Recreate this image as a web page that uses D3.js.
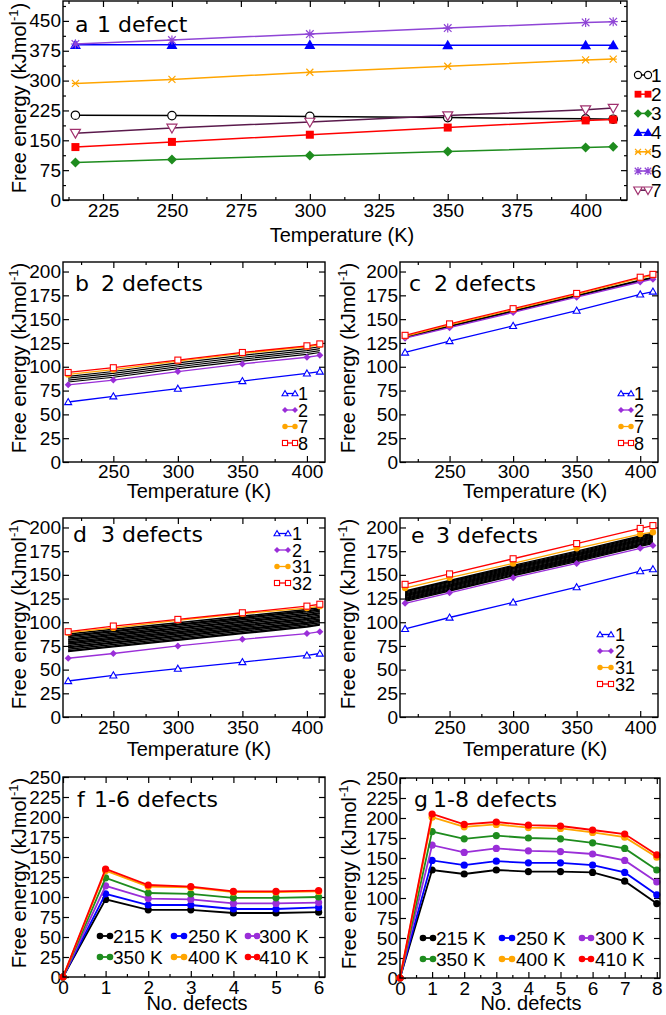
<!DOCTYPE html>
<html><head><meta charset="utf-8">
<script src="https://cdn.jsdelivr.net/npm/d3@7"></script>
<style>body{margin:0;background:#fff}</style>
</head><body>
<svg id="c" width="666" height="1015" xmlns="http://www.w3.org/2000/svg"></svg>
<script>
// ---------- DATA ----------
const temps = [215, 250, 300, 350, 400, 410];
const defectsF = [0, 1, 2, 3, 4, 5, 6];
const defectsG = [0, 1, 2, 3, 4, 5, 6, 7, 8];

// panel a (1 defect)
const aNames = ["1", "2", "3", "4", "5", "6", "7"];
const a1 = [213, 212, 210, 207, 204, 203];
const a2 = [133, 146, 164, 182, 200, 202];
const a3 = [94, 102, 112, 122, 132, 134];
const a4 = [390, 390, 390, 389, 389, 389];
const a5 = [293, 303, 321, 336, 352, 354];
const a6 = [392, 402, 417, 432, 446, 448];
const a7 = [168, 181, 196, 212, 227, 231];

// panel b (2 defects)
const b1 = [63, 69, 77, 85, 93, 95];
const b2 = [81, 86, 95, 103, 110, 112];
const bOthers = [
  [84, 89, 98, 106, 113, 115],
  [86, 91, 100, 108, 115, 117],
  [88, 93, 102, 110, 117, 119],
  [90, 95, 104, 112, 119, 121]
];
const b7 = [92, 97, 106, 114, 121, 123];
const b8 = [94, 99, 107, 115, 122, 124];

// panel c (2 defects)
const c1 = [115, 127, 143, 159, 176, 179];
const c2 = [130, 141, 157, 173, 189, 192];
const cOthers = [
  [130.5, 142, 158, 174, 190, 193],
  [131, 142.5, 158.5, 174.5, 190.5, 193.5],
  [131.5, 143, 159, 175, 191, 194]
];
const c7 = [132, 144, 160, 176, 193, 196];
const c8 = [133, 145, 161, 177, 194, 197];

// panel d (3 defects)
const d1 = [38, 44, 51, 58, 65, 67];
const d2 = [62, 67, 75, 82, 88, 90];
const dOthers = [
  [69, 74, 81, 88, 95, 97],
  [70, 75, 82, 89, 96, 98],
  [71.5, 76.5, 83.5, 90.5, 97.5, 99.5],
  [73, 78, 85, 92, 99, 101],
  [74, 79, 86, 93, 100, 102],
  [75.5, 80.5, 87.5, 94.5, 101.5, 103.5],
  [77, 82, 89, 96, 103, 105],
  [78, 83, 90, 97, 104, 106],
  [79.5, 84.5, 91.5, 98.5, 105.5, 107.5],
  [81, 86, 93, 100, 107, 109],
  [82, 87, 94, 101, 108, 110],
  [83.5, 88.5, 95.5, 102.5, 109.5, 111.5],
  [85, 90, 97, 104, 111, 113],
  [86, 91, 98, 105, 112, 114],
  [87.5, 92.5, 99.5, 106.5, 113.5, 115.5]
];
const d31 = [89, 94, 102, 109, 115, 117];
const d32 = [90, 96, 103, 110, 117, 119];

// panel e (3 defects)
const e1 = [93, 105, 121, 137, 154, 156];
const e2 = [120, 131, 147, 162, 178, 181];
const eOthers = [
  [122, 133, 149, 164, 180, 183],
  [123, 134, 150, 165, 181, 184],
  [124, 135, 151, 166, 182, 185],
  [125, 136, 152, 167, 183, 186],
  [126, 137, 153, 168, 184, 187],
  [127, 138, 154, 169, 185, 188],
  [128, 139, 155, 170, 186, 189],
  [129, 140, 156, 171, 187, 190],
  [130, 141, 157, 172, 188, 191],
  [131, 142, 158, 173, 189, 192],
  [132, 143, 159, 174, 190, 193],
  [133, 144, 160, 175, 191, 194]
];
const e31 = [136, 147, 162, 178, 193, 195];
const e32 = [140, 151, 167, 183, 199, 202];

// panel f (1-6 defects)
const tempLabels = ["215 K", "250 K", "300 K", "350 K", "400 K", "410 K"];
const f215 = [0, 97, 84, 84, 80, 80, 81];
const f250 = [0, 104, 90, 90, 85, 85, 87];
const f300 = [0, 114, 98, 97, 92, 92, 93];
const f350 = [0, 124, 105, 104, 99, 99, 100];
const f400 = [0, 133, 113, 112, 106, 106, 107];
const f410 = [0, 135, 115, 113, 107, 107, 108];

// panel g (1-8 defects)
const g215 = [0, 135, 130, 135, 133, 133, 132, 121, 93];
const g250 = [0, 147, 141, 146, 144, 144, 141, 132, 104];
const g300 = [0, 166, 157, 162, 159, 158, 155, 147, 120];
const g350 = [0, 183, 174, 178, 175, 174, 169, 162, 135];
const g400 = [0, 201, 189, 192, 188, 187, 182, 176, 151];
const g410 = [0, 205, 192, 195, 191, 190, 185, 180, 154];

// tick values
const aXTicks = [225, 250, 275, 300, 325, 350, 375, 400];
const aYTicks = [0, 75, 150, 225, 300, 375, 450];
const tXTicks = [250, 300, 350, 400];
const tYTicks = [0, 25, 50, 75, 100, 125, 150, 175, 200];
const nYTicks = [0, 25, 50, 75, 100, 125, 150, 175, 200, 225, 250];

// ---------- STYLE ----------
const RED = "#ff0000", BLUE = "#0000ff", GREEN = "#1e8c1e", ORANGE = "#ffa500",
      PURPLE = "#9a2ed8", VIOLET = "#8f45d6", PLUM = "#5a1a4c", PLUMM = "#a0306e";
const TICKFONT = "'Liberation Sans', Arial, Helvetica, sans-serif";
const TITLEFONT = "'DejaVu Sans', Verdana, sans-serif";

const svg = d3.select("#c");

function mark(g, type, cx, cy, color, s) {
  switch (type) {
    case "circleOpen":
      g.append("circle").attr("cx", cx).attr("cy", cy).attr("r", s)
        .attr("fill", "#fff").attr("stroke", color).attr("stroke-width", 1.2); break;
    case "circle":
      g.append("circle").attr("cx", cx).attr("cy", cy).attr("r", s).attr("fill", color); break;
    case "square":
      g.append("rect").attr("x", cx - s).attr("y", cy - s).attr("width", 2 * s).attr("height", 2 * s).attr("fill", color); break;
    case "squareOpen":
      g.append("rect").attr("x", cx - s).attr("y", cy - s).attr("width", 2 * s).attr("height", 2 * s)
        .attr("fill", "#fff").attr("stroke", color).attr("stroke-width", 1.1); break;
    case "diamond":
      g.append("path").attr("d", `M${cx},${cy - s}L${cx + s},${cy}L${cx},${cy + s}L${cx - s},${cy}Z`).attr("fill", color); break;
    case "triUp":
      g.append("path").attr("d", `M${cx},${cy - s}L${cx + s},${cy + s * 0.75}L${cx - s},${cy + s * 0.75}Z`).attr("fill", color); break;
    case "triUpOpen":
      g.append("path").attr("d", `M${cx},${cy - s}L${cx + s},${cy + s * 0.75}L${cx - s},${cy + s * 0.75}Z`)
        .attr("fill", "#fff").attr("stroke", color).attr("stroke-width", 1.1); break;
    case "triDownOpen":
      g.append("path").attr("d", `M${cx},${cy + s}L${cx + s},${cy - s * 0.75}L${cx - s},${cy - s * 0.75}Z`)
        .attr("fill", "#fff").attr("stroke", color).attr("stroke-width", 1.2); break;
    case "cross":
      g.append("path").attr("d", `M${cx - s},${cy - s}L${cx + s},${cy + s}M${cx - s},${cy + s}L${cx + s},${cy - s}M${cx - s},${cy}L${cx + s},${cy}`)
        .attr("stroke", color).attr("stroke-width", 1.2).attr("fill", "none"); break;
    case "star":
      g.append("path").attr("d", `M${cx - s},${cy - s}L${cx + s},${cy + s}M${cx - s},${cy + s}L${cx + s},${cy - s}M${cx - s * 1.2},${cy}L${cx + s * 1.2},${cy}M${cx},${cy - s * 1.2}L${cx},${cy + s * 1.2}`)
        .attr("stroke", color).attr("stroke-width", 1.2).attr("fill", "none"); break;
  }
}

function panel(o) {
  const g = svg.append("g");
  const x = d3.scaleLinear().domain(o.xd).range([o.l, o.r]);
  const y = d3.scaleLinear().domain(o.yd).range([o.b, o.t]);

  function ax(fn, scale, vals, size, labels, tr, pad) {
    const a = g.append("g").attr("transform", tr)
      .call(fn(scale).tickValues(vals).tickSize(size).tickPadding(pad)
        .tickFormat(labels ? d3.format("d") : () => ""));
    a.select(".domain").remove();
    a.selectAll("line").attr("stroke", "#000").attr("stroke-width", 1.2);
    a.attr("font-size", 19).attr("font-family", TICKFONT);
    a.selectAll("text").attr("fill", "#000");
    if (!labels) a.selectAll("text").remove();
    return a;
  }
  ax(d3.axisBottom, x, o.xt, -6, true, `translate(0,${o.b})`, o.xpad);
  ax(d3.axisTop, x, o.xt, -6, false, `translate(0,${o.t})`, 0);
  ax(d3.axisLeft, y, o.yt, -6, true, `translate(${o.l},0)`, 2);
  ax(d3.axisRight, y, o.yt, -6, false, `translate(${o.r},0)`, 0);
  if (o.xm) {
    ax(d3.axisBottom, x, o.xm, -3, false, `translate(0,${o.b})`, 0);
    ax(d3.axisTop, x, o.xm, -3, false, `translate(0,${o.t})`, 0);
  }
  if (o.ym) {
    ax(d3.axisLeft, y, o.ym, -3, false, `translate(${o.l},0)`, 0);
    ax(d3.axisRight, y, o.ym, -3, false, `translate(${o.r},0)`, 0);
  }

  const line = d3.line().x((d, i) => x(o.xs[i])).y(d => y(d));
  (o.others || []).forEach(s => {
    g.append("path").attr("d", line(s)).attr("fill", "none").attr("stroke", "#000").attr("stroke-width", o.otherW || 1.2);
  });
  o.series.forEach(s => {
    g.append("path").attr("d", line(s.v)).attr("fill", "none").attr("stroke", s.lc || s.c).attr("stroke-width", o.lw);
    s.v.forEach((v, i) => mark(g, s.m, x(o.xs[i]), y(v), s.mc || s.c, s.s));
  });

  g.append("rect").attr("x", o.l).attr("y", o.t).attr("width", o.r - o.l).attr("height", o.b - o.t)
    .attr("fill", "none").attr("stroke", "#000").attr("stroke-width", 1.4);

  if (o.leg) {
    o.leg.forEach(L => {
      const s = L.s;
      g.append("line").attr("x1", L.x0).attr("x2", L.x1).attr("y1", L.y).attr("y2", L.y)
        .attr("stroke", s.lc || s.c).attr("stroke-width", o.lw);
      mark(g, s.m, L.x0, L.y, s.mc || s.c, L.ms || s.s);
      mark(g, s.m, L.x1, L.y, s.mc || s.c, L.ms || s.s);
      g.append("text").attr("x", L.tx).attr("y", L.y + 6.5).attr("font-size", L.fs || 19)
        .attr("font-family", TICKFONT).text(L.label);
    });
  }

  g.append("text").attr("x", o.title[0]).attr("y", o.title[3]).attr("font-size", 22)
    .attr("font-family", TITLEFONT).text(o.title[2]);
  g.append("text").attr("x", o.title[1]).attr("y", o.title[3]).attr("font-size", 22)
    .attr("font-family", TITLEFONT).text(o.titleRest);

  g.append("text").attr("x", o.xl[0]).attr("y", o.xl[1]).attr("text-anchor", "middle")
    .attr("font-size", 20).attr("font-family", TICKFONT).text(o.xlab);
  const yl = g.append("text").attr("transform", "rotate(-90)")
    .attr("x", -o.yl[1]).attr("y", o.yl[0]).attr("text-anchor", "middle")
    .attr("font-size", 20).attr("font-family", TICKFONT);
  yl.append("tspan").text("Free energy (kJmol");
  yl.append("tspan").attr("font-size", 13).attr("dy", -8).text("-1");
  yl.append("tspan").attr("dy", 8).text(")");
}

// ---------- PANELS ----------
const aS = [
  {v: a1, c: "#000", m: "circleOpen", s: 4.2},
  {v: a2, c: RED, m: "square", s: 4},
  {v: a3, c: GREEN, m: "diamond", s: 5},
  {v: a4, c: BLUE, m: "triUp", s: 5.5},
  {v: a5, c: ORANGE, m: "cross", s: 3.5},
  {v: a6, c: VIOLET, m: "star", s: 3.8},
  {v: a7, c: PLUM, mc: PLUMM, m: "triDownOpen", s: 5}
];
panel({
  l: 63, r: 627, t: 1, b: 200, xd: [210.5, 415], yd: [0, 500],
  xt: aXTicks, yt: aYTicks,
  xm: [212.5, 237.5, 262.5, 287.5, 312.5, 337.5, 362.5, 387.5, 412.5],
  ym: [37.5, 112.5, 187.5, 262.5, 337.5, 412.5, 487.5],
  xpad: 4, xs: temps, lw: 1.5, series: aS,
  leg: aS.map((s, i) => ({s, label: aNames[i], x0: 638, x1: 648, tx: 651, y: 75 + i * 19.2, fs: 19, ms: s.s * 0.85})),
  title: [75, 97, "a", 32], titleRest: "1 defect",
  xlab: "Temperature (K)", xl: [342, 242], yl: [26, 98]
});

function tSeries(s1, s2, s3, s4) {
  return [
    {v: s1, c: BLUE, m: "triUpOpen", s: 3.5},
    {v: s2, c: PURPLE, m: "diamond", s: 3.5},
    {v: s3, c: ORANGE, m: "circle", s: 3.2},
    {v: s4, c: RED, m: "squareOpen", s: 3}
  ];
}
function tLegend(ser, names, x0, x1, tx, y0) {
  return ser.map((s, i) => ({s, label: names[i], x0, x1, tx, y: y0 + i * 16.5, ms: s.s * 0.85, fs: 18}));
}
const tXMinor = [225, 275, 325, 375];

const bS = tSeries(b1, b2, b7, b8);
panel({
  l: 63, r: 325, t: 262, b: 462, xd: [211, 414], yd: [0, 210],
  xt: tXTicks, yt: tYTicks, xm: tXMinor, xpad: 2, xs: temps, lw: 1.3,
  others: bOthers, series: bS,
  leg: tLegend(bS, ["1", "2", "7", "8"], 285, 295, 298, 393.5),
  title: [75, 101, "b", 291], titleRest: "2 defects",
  xlab: "Temperature (K)", xl: [199, 498], yl: [26, 358]
});
const cS = tSeries(c1, c2, c7, c8);
panel({
  l: 400, r: 658, t: 262, b: 462, xd: [211, 414], yd: [0, 210],
  xt: tXTicks, yt: tYTicks, xm: tXMinor, xpad: 2, xs: temps, lw: 1.3,
  others: cOthers, series: cS,
  leg: tLegend(cS, ["1", "2", "7", "8"], 621, 631, 634, 393.5),
  title: [409, 434, "c", 291], titleRest: "2 defects",
  xlab: "Temperature (K)", xl: [535, 498], yl: [355, 358]
});
const dS = tSeries(d1, d2, d31, d32);
panel({
  l: 63, r: 325, t: 518, b: 717, xd: [211, 414], yd: [0, 210],
  xt: tXTicks, yt: tYTicks, xm: tXMinor, xpad: 3, xs: temps, lw: 1.3,
  others: dOthers, otherW: 1.5, series: dS,
  leg: tLegend(dS, ["1", "2", "31", "32"], 277, 288, 292, 533.5),
  title: [73, 101, "d", 542], titleRest: "3 defects",
  xlab: "Temperature (K)", xl: [199, 756], yl: [26, 614]
});
const eS = tSeries(e1, e2, e31, e32);
panel({
  l: 400, r: 658, t: 518, b: 717, xd: [211, 414], yd: [0, 210],
  xt: tXTicks, yt: tYTicks, xm: tXMinor, xpad: 3, xs: temps, lw: 1.3,
  others: eOthers, otherW: 1.4, series: eS,
  leg: tLegend(eS, ["1", "2", "31", "32"], 600, 611, 615, 634.5),
  title: [411, 436, "e", 543], titleRest: "3 defects",
  xlab: "Temperature (K)", xl: [535, 756], yl: [355, 614]
});

const nColors = ["#000", BLUE, PURPLE, GREEN, ORANGE, RED];
function nSeries(arr) { return arr.map((v, i) => ({v, c: nColors[i], m: "circle", s: 3.6})); }
function nLegend(ser, cols, y0) {
  return ser.map((s, i) => {
    const c = cols[i % 3];
    return {s, label: tempLabels[i], x0: c[0], x1: c[1], tx: c[2], y: y0 + Math.floor(i / 3) * 21, ms: 3.3};
  });
}
const fS = nSeries([f215, f250, f300, f350, f400, f410]);
panel({
  l: 63, r: 325, t: 777, b: 977, xd: [0, 6.15], yd: [0, 250],
  xt: defectsF, yt: nYTicks, xm: [0.5, 1.5, 2.5, 3.5, 4.5, 5.5], xpad: 3, xs: defectsF, lw: 1.8,
  series: fS,
  leg: nLegend(fS, [[100, 110, 113], [174, 184, 188], [248, 257, 259]], 936),
  title: [77, 94, "f", 807], titleRest: "1-6 defects",
  xlab: "No. defects", xl: [197, 1010], yl: [26, 873]
});
const gS = nSeries([g215, g250, g300, g350, g400, g410]);
panel({
  l: 400, r: 660, t: 778, b: 978, xd: [0, 8.1], yd: [0, 250],
  xt: defectsG, yt: nYTicks, xm: [0.5, 1.5, 2.5, 3.5, 4.5, 5.5, 6.5, 7.5], xpad: 3, xs: defectsG, lw: 1.8,
  series: gS,
  leg: nLegend(gS, [[423, 433, 436], [502, 512, 516], [582, 591, 595]], 938),
  title: [414, 433, "g", 807], titleRest: "1-8 defects",
  xlab: "No. defects", xl: [531, 1010], yl: [356, 874]
});
</script>
</body></html>
